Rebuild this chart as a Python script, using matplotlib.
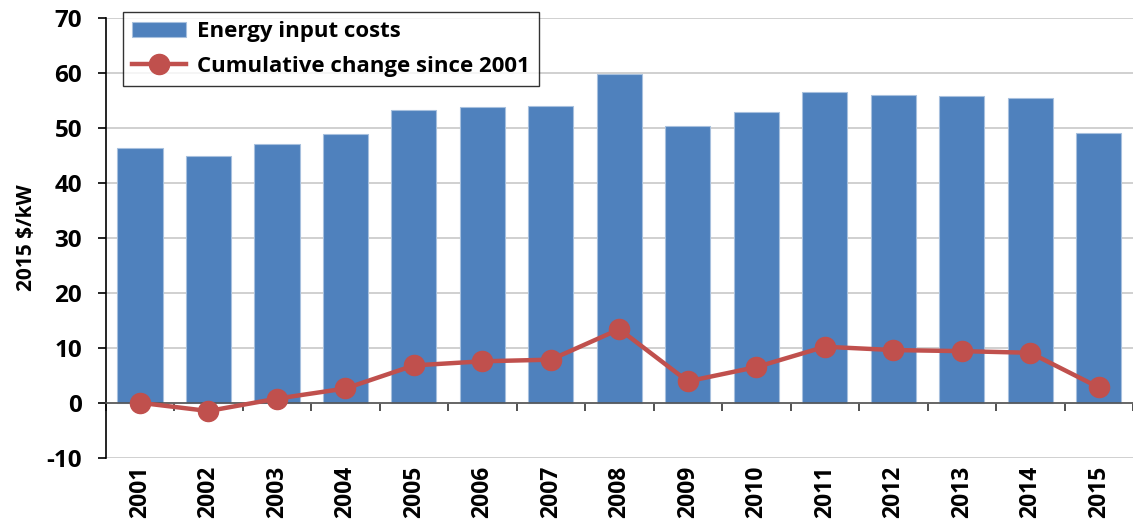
import matplotlib
matplotlib.use('Agg')
from matplotlib import pyplot as plt
import numpy as np

plt.rcParams['font.family'] = ['Open Sans', 'DejaVu Sans']
plt.rcParams['font.weight'] = 'bold'
plt.rcParams['axes.unicode_minus'] = False

years = ['2001', '2002', '2003', '2004', '2005', '2006', '2007', '2008',
         '2009', '2010', '2011', '2012', '2013', '2014', '2015']
energy_costs = [46.4, 44.95, 47.1, 48.95, 53.3, 53.9, 54.1, 59.9,
                50.35, 52.9, 56.6, 56.1, 55.9, 55.5, 49.1]
cum_change = [0.0, -1.5, 0.75, 2.6, 6.8, 7.55, 7.85, 13.4,
              3.9, 6.5, 10.2, 9.6, 9.4, 9.1, 2.8]

W, H = 1133, 522
fig = plt.figure(figsize=(W / 100, H / 100), dpi=100)
ax = fig.add_axes([105.7 / W, 64.3 / H, (W - 105.7) / W, 439.4 / H])

x = np.arange(len(years))
bars = ax.bar(x, energy_costs, width=0.66, color='#4F81BD', edgecolor='#A7C0DE',
              linewidth=0.8, zorder=2, label='Energy input costs')
line, = ax.plot(x, cum_change, color='#C0504D', linewidth=3.2, marker='o',
                markersize=14.5, zorder=4, label='Cumulative change since 2001')

ax.set_xlim(-0.5, 14.5 - 8 / 69)
ax.set_ylim(-10, 70)
ax.set_yticks(range(-10, 71, 10))
ax.yaxis.grid(True, color='#C8C8C8', linewidth=1.2, zorder=0)
ax.set_axisbelow(True)

for s in ['top', 'right']:
    ax.spines[s].set_visible(False)
ax.spines['left'].set_color('black')
ax.spines['left'].set_linewidth(1.2)
ax.spines['bottom'].set_position(('data', 0))
ax.spines['bottom'].set_color('#555555')
ax.spines['bottom'].set_linewidth(1.2)
ax.spines['bottom'].set_zorder(3)

ax.set_xticks(x)
ax.set_xticklabels(years, rotation=90, fontsize=16.5, fontweight='bold')
ax.set_xticks(np.arange(-0.5, 15, 1), minor=True)
ax.tick_params(axis='x', which='major', length=0, pad=45)
ax.tick_params(axis='x', which='minor', length=6, width=1.2, color='#333333', direction='out')
ax.tick_params(axis='y', length=6, width=1.2, labelsize=17.5, pad=11)
for t in ax.get_yticklabels():
    t.set_fontweight('bold')

ax.set_ylabel('2015 $/kW', fontsize=15, fontweight='bold', labelpad=7)

leg = fig.legend([bars, line], ['Energy input costs', 'Cumulative change since 2001'],
                 loc='upper left', bbox_to_anchor=(123 / W, 1 - 12 / H),
                 prop={'size': 16, 'weight': 'bold'}, frameon=True, fancybox=False,
                 edgecolor='black', handlelength=2.4, handletextpad=0.5,
                 borderpad=0.42, labelspacing=0.6, borderaxespad=0)
leg.get_frame().set_linewidth(1.0)

fig.savefig('out.png', dpi=100)
